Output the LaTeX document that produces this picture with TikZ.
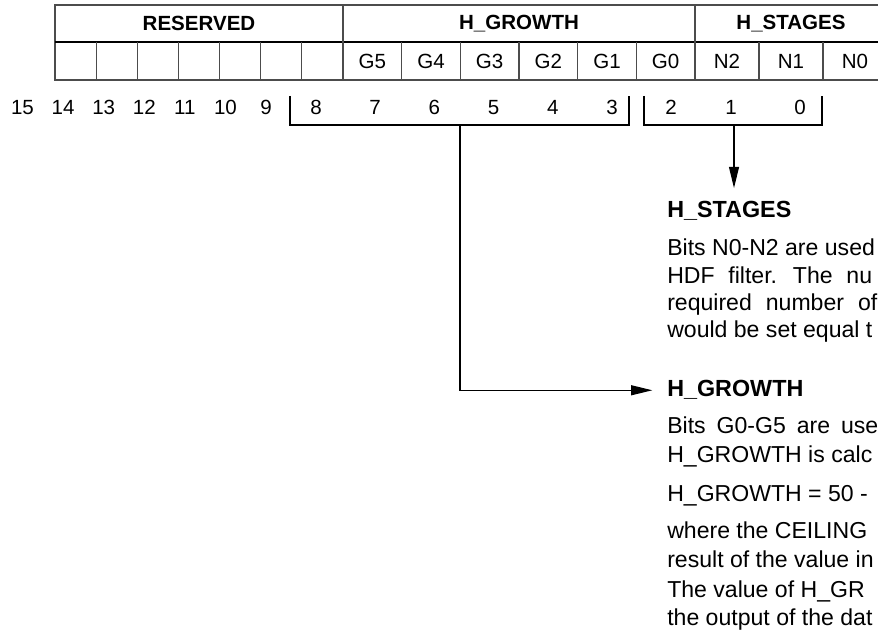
\documentclass[tikz,border=0pt]{standalone}
\usepackage{fontspec}
\setmainfont{Liberation Sans}
\usetikzlibrary{arrows.meta}
\begin{document}
\begin{tikzpicture}
  [
    x = 0.75pt, y = -0.75pt,
    grid/.style     = {draw=black!70, line width=0.8pt},
    rowrule/.style  = {draw, line width=1.6pt},
    field/.style    = {font=\fontsize{15.4}{18}\selectfont\bfseries},
    bitname/.style  = {font=\fontsize{15.4}{18}\selectfont},
    bitnum/.style   = {font=\fontsize{15.4}{18}\selectfont, anchor=base},
    bracket/.style  = {draw, line width=0.9pt},
    % long plain triangle tips as in the register sheet
    pointer/.style  = {draw, line width=0.9pt,
                       -{Triangle[length=16pt,width=7.5pt]}},
    heading/.style  = {font=\fontsize{17.5}{20}\selectfont\bfseries,
                       anchor=base west, inner sep=0pt},
    bodyline/.style = {font=\fontsize{17.3}{20}\selectfont,
                       anchor=base west, inner sep=0pt}
    ]
    \useasboundingbox (0,0) rectangle (878,641);
    \clip (0,0) rectangle (878,641);

    % register table
    \draw [grid] (55,5) rectangle (887,80);
    \draw [rowrule] (55,42) -- (887,42);
    \foreach \x in {96.1,137.3,178.4,219.6,260.7,301.9,
                    401.7,460.3,519,577.7,636.3,759,823}
      \draw [grid] (\x,42) -- (\x,80);
    \foreach \x in {343,695}
      \draw [grid] (\x,5) -- (\x,80);

    \node [field] (reserved) at (199,23.5) {RESERVED};
    \node [field] (growth)   at (519,23.5) {H\_GROWTH};
    \node [field] (stages)   at (791,23.5) {H\_STAGES};

    \foreach \n [count=\i from 0] in {G5,G4,G3,G2,G1,G0}
      \node [bitname] (\n) at (372.3+58.67*\i,61) {\n};
    \foreach \n [count=\i from 0] in {N2,N1,N0}
      \node [bitname] (\n) at (727+64*\i,61) {\n};

    % bit numbers
    \foreach \b [count=\i from 0] in {15,14,13,12,11,10,9}
      \node [bitnum] (bit\b) at (22.5+40.6*\i,115) {\b};
    \foreach \b [count=\i from 0] in {8,7,6,5,4,3}
      \node [bitnum] (bit\b) at (316+59.2*\i,115) {\b};
    \node [bitnum] (bit2) at (671,115) {2};
    \node [bitnum] (bit1) at (731,115) {1};
    \node [bitnum] (bit0) at (800,115) {0};

    \draw [bracket] (290,96) |- (629,125) -- (629,96);
    \draw [bracket] (644,96) |- (822,125) -- (822,96);
    \coordinate (growthbrk) at (460,125);
    \coordinate (stagesbrk) at (734,125);

    % field descriptions
    \node [heading] (stagesHead) at (667,218) {H\_STAGES};
    \node [bodyline] (stagesL1) at (667,256) {Bits N0-N2 are used};
    \node [bodyline] (stagesL2) at (667,284)
      {\spaceskip=10.3pt HDF filter. The nu};
    \node [bodyline] (stagesL3) at (667,311)
      {\spaceskip=10.5pt required number of};
    \node [bodyline] (stagesL4) at (667,338) {would be set equal t};

    \node [heading] (growthHead) at (667,397) {H\_GROWTH};
    \node [bodyline] (growthL1) at (667,434)
      {\spaceskip=8.2pt Bits G0-G5 are use};
    \node [bodyline] (growthL2) at (667,462) {H\_GROWTH is calc};
    \node [bodyline] (growthL3) at (667,501) {H\_GROWTH = 50 -};
    \node [bodyline] (growthL4) at (667,538) {where the CEILING};
    \node [bodyline] (growthL5) at (667,567) {result of the value in};
    \node [bodyline] (growthL6) at (667,597) {The value of H\_GR};
    \node [bodyline] (growthL7) at (667,625) {the output of the dat};

    \draw [pointer, shorten >=10pt] (stagesbrk) -- (stagesbrk |- stagesHead.north);
    \draw [pointer, shorten >=11pt] (growthbrk) |- (growthHead.west);
\end{tikzpicture}
\end{document}
